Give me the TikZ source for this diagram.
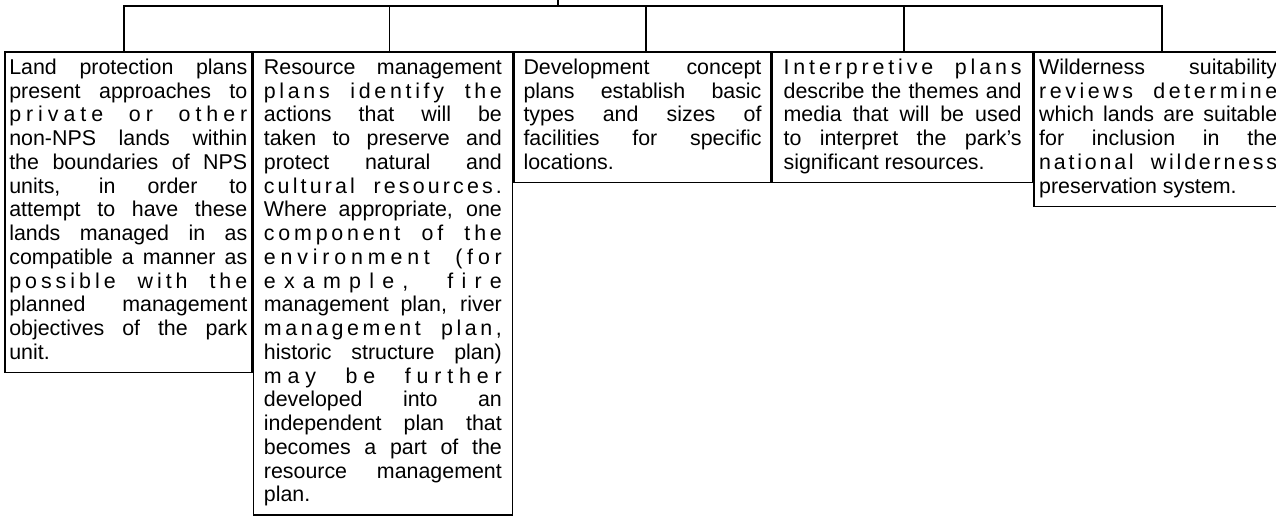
\documentclass[tikz,border=0pt]{standalone}
\usepackage{fontspec}
\setmainfont{Liberation Sans}
\usetikzlibrary{positioning}
\tolerance=10000
\hyphenpenalty=10000
\exhyphenpenalty=10000
\hbadness=10000
% spread the letters of a line over its width
\makeatletter
\def\lsp#1{\lsp@w#1 \@nil}
\def\lsp@w#1 #2\@nil{\lsp@a#1\relax
    \ifx\relax#2\relax\else\hskip3pt plus4fil\relax\lsp@w#2\@nil\fi}
\def\lsp@a#1{#1\lsp@b}
\def\lsp@b#1{\ifx\relax#1\else\hskip0pt plus1fil\relax#1\expandafter\lsp@b\fi}
\makeatother

\begin{document}
\begin{tikzpicture}[x=1pt,y=1pt,
            line width=0.8pt,
            node distance = 0pt,
            box/.style = {draw,text width=119pt,align=justify,
                inner xsep=2pt,inner ysep=3pt,
                font=\fontsize{10.7}{11.875}\selectfont,
                execute at begin node=\strut,
                execute at end node=\strut}]
            \useasboundingbox (0,0) rectangle (638,-258);
            \coordinate (root) at (279,0);
            \coordinate (bus) at (279,-3);
            \node[box,minimum width=123.5pt,anchor=north west] (b1) at (2,-25.5)
                {Land protection plans\linebreak present approaches to\linebreak
                \lsp{private or other}\linebreak non-NPS lands within\linebreak
                the boundaries of NPS\linebreak units, in order to\linebreak
                attempt to have these\linebreak lands managed in as\linebreak
                compatible a manner as\linebreak \lsp{possible with the}\linebreak
                planned management\linebreak objectives of the park\linebreak
                unit.};
            \node[box,minimum width=129.5pt,below right=of b1.north east] (b2)
                {Resource management\linebreak \lsp{plans identify the}\linebreak
                actions that will be\linebreak taken to preserve and\linebreak
                protect natural and\linebreak \lsp{cultural resources.}\linebreak
                Where appropriate, one\linebreak \lsp{component of the}\linebreak
                \lsp{environment (for}\linebreak \lsp{example, fire}\linebreak
                management plan, river\linebreak \lsp{management plan,}\linebreak
                historic structure plan)\linebreak \lsp{may be further}\linebreak
                developed into an\linebreak independent plan that\linebreak
                becomes a part of the\linebreak resource management\linebreak
                plan.};
            \node[box,minimum width=128.5pt,below right=of b2.north east] (b3)
                {Development concept\linebreak plans establish basic\linebreak
                types and sizes of\linebreak facilities for specific\linebreak
                locations.};
            \node[box,minimum width=130pt,below right=of b3.north east] (b4)
                {\lsp{Interpretive plans}\linebreak describe the themes and\linebreak
                media that will be used\linebreak to interpret the park's\linebreak
                significant resources.};
            \node[box,minimum width=124pt,below right=of b4.north east] (b5)
                {Wilderness suitability\linebreak \lsp{reviews determine}\linebreak
                which lands are suitable\linebreak for inclusion in the\linebreak
                \lsp{national wilderness}\linebreak preservation system.};
            % tree lines
            \draw (root) -- (bus);
            \draw ([xshift=-2.25pt]b1.north) |- (bus) -| ([xshift=1.75pt]b5.north);
            \foreach \i/\dx in {2/3.25,3/1.75,4/0.75}
                \draw ([xshift=\dx pt]b\i.north |- bus) -- ([xshift=\dx pt]b\i.north);
\end{tikzpicture}
\end{document}
